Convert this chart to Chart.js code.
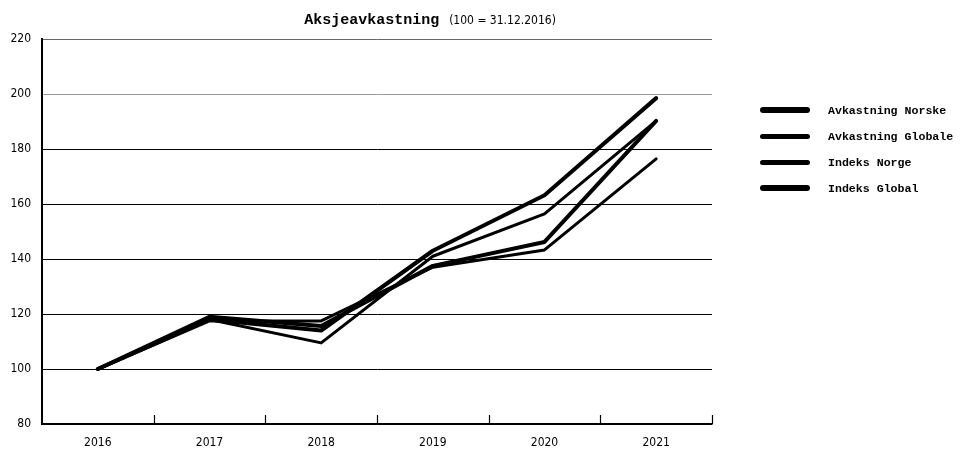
<!DOCTYPE html>
<html><head><meta charset="utf-8">
<script src="https://cdn.jsdelivr.net/npm/chart.js@4/dist/chart.umd.min.js"></script>
<style>
html,body{margin:0;padding:0;background:#fff;}
#wrap{position:relative;width:964px;height:455px;}
#legend{position:absolute;left:760px;top:97px;font-family:"Liberation Mono",monospace;font-weight:bold;font-size:11.6px;color:#000;}
.li{display:flex;align-items:center;height:26px;}
.sw{width:50px;height:5px;background:#000;border-radius:3px;margin-right:18px;}
</style></head>
<body><div id="wrap"><canvas id="c" width="964" height="455"></canvas><div id="legend"></div></div>
<script>
const titleMain = "Aksjeavkastning";
const titleSub = "(100 = 31.12.2016)";
const categories = ["2016","2017","2018","2019","2020","2021"];
const seriesNames = ["Avkastning Norske","Avkastning Globale","Indeks Norge","Indeks Global"];
const avkastningNorske  = [100, 118, 114.0, 143.0, 163.2, 198.5];
const avkastningGlobale = [100, 118, 109.5, 141.0, 156.4, 190.2];
const indeksNorge       = [100, 117.5, 117.5, 137.0, 143.3, 176.4];
const indeksGlobal      = [100, 119, 115.6, 137.5, 146.2, 190.2];
const yTicks = [80,100,120,140,160,180,200,220];

const narrow = '"Liberation Sans Narrow","DejaVu Sans Condensed",sans-serif';
const widths = [4,3,3,4];
const seriesData = [avkastningNorske, avkastningGlobale, indeksNorge, indeksGlobal];

const leg = document.getElementById('legend');
seriesNames.forEach((n,i)=>{
  const d=document.createElement('div');d.className='li';
  d.innerHTML='<span class="sw" style="height:'+(widths[i]+2)+'px"></span><span>'+n+'</span>';
  leg.appendChild(d);
});

const deco = {
  id:'deco',
  afterDraw(chart){
    const ctx=chart.ctx, x=chart.scales.x, a=chart.chartArea;
    ctx.save();
    ctx.strokeStyle='#000';ctx.lineWidth=1.2;
    for(let i=0;i<categories.length;i++){
      const px = i<categories.length-1 ? (x.getPixelForValue(i)+x.getPixelForValue(i+1))/2 : a.right;
      ctx.beginPath();ctx.moveTo(Math.round(px)+0.5,a.bottom);ctx.lineTo(Math.round(px)+0.5,a.bottom-9);ctx.stroke();
    }
    ctx.fillStyle='#000';ctx.textBaseline='alphabetic';
    ctx.font='bold 15px "Liberation Mono",monospace';
    const w1=ctx.measureText(titleMain).width;
    ctx.font='12px '+narrow;
    const w2=ctx.measureText(titleSub).width;
    const gap=10, total=w1+gap+w2;
    let sx=430-total/2;
    ctx.font='bold 15px "Liberation Mono",monospace';
    ctx.textAlign='left';
    ctx.fillText(titleMain,sx,24);
    ctx.font='12px '+narrow;
    ctx.fillText(titleSub,sx+w1+gap,24);
    ctx.restore();
  }
};

new Chart(document.getElementById('c'),{
  type:'line',
  data:{labels:categories,datasets:seriesData.map((d,i)=>({
    label:seriesNames[i],data:d,borderColor:'#000',backgroundColor:'#000',
    borderWidth:widths[i],pointRadius:0,tension:0,borderCapStyle:'round',borderJoinStyle:'round'}))},
  options:{
    responsive:false,animation:false,
    layout:{padding:{top:39,right:252,left:0,bottom:0}},
    plugins:{legend:{display:false},tooltip:{enabled:false}},
    scales:{
      x:{offset:true,
        grid:{display:true,drawOnChartArea:false,drawTicks:false,offset:true},
        border:{display:true,color:'#000',width:1.5},
        ticks:{color:'#000',font:{family:narrow,size:12},padding:12},
        afterFit(s){s.height=31;}},
      y:{min:80,max:220,
        afterBuildTicks(s){s.ticks=yTicks.map(v=>({value:v}));},
        grid:{drawTicks:false,color:c=>c.tick&&c.tick.value===200?'#999':(c.tick&&c.tick.value===220?'#666':'#000'),lineWidth:1},
        border:{display:true,color:'#000',width:2},
        ticks:{color:'#000',font:{family:narrow,size:12},padding:11},
        afterFit(s){s.width=42;}}
    }
  },
  plugins:[deco]
});
</script></body></html>
